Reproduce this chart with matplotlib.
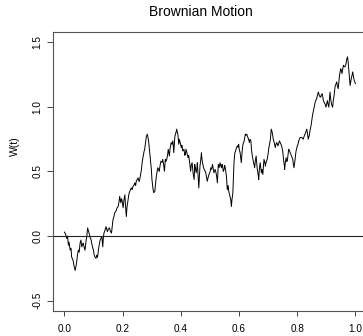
import matplotlib
matplotlib.use("Agg")
import matplotlib.pyplot as plt

plt.rcParams["font.family"] = ["Liberation Sans", "DejaVu Sans"]

# Sampled path of the Brownian motion W(t) on [0, 1]
t = [0.000, 0.004, 0.008, 0.011, 0.014, 0.016, 0.020, 0.023, 0.025, 0.030,
     0.033, 0.037, 0.040, 0.043, 0.045, 0.048, 0.051, 0.054, 0.057, 0.060,
     0.063, 0.065, 0.068, 0.071, 0.075, 0.077, 0.080, 0.082, 0.085, 0.088,
     0.092, 0.094, 0.097, 0.100, 0.102, 0.105, 0.109, 0.111, 0.114, 0.117,
     0.119, 0.123, 0.126, 0.129, 0.132, 0.134, 0.136, 0.140, 0.143, 0.148,
     0.151, 0.155, 0.158, 0.162, 0.164, 0.167, 0.171, 0.173, 0.176, 0.179,
     0.181, 0.185, 0.188, 0.190, 0.194, 0.196, 0.198, 0.202, 0.205, 0.208,
     0.210, 0.213, 0.215, 0.219, 0.222, 0.225, 0.227, 0.230, 0.233, 0.236,
     0.240, 0.242, 0.245, 0.247, 0.250, 0.253, 0.257, 0.259, 0.262, 0.265,
     0.267, 0.270, 0.274, 0.276, 0.280, 0.282, 0.285, 0.288, 0.290, 0.293,
     0.296, 0.299, 0.301, 0.305, 0.307, 0.311, 0.313, 0.316, 0.321, 0.324,
     0.326, 0.329, 0.332, 0.336, 0.338, 0.341, 0.344, 0.347, 0.349, 0.352,
     0.355, 0.357, 0.361, 0.363, 0.367, 0.370, 0.373, 0.376, 0.378, 0.380,
     0.384, 0.386, 0.390, 0.393, 0.395, 0.398, 0.402, 0.404, 0.407, 0.411,
     0.414, 0.416, 0.418, 0.421, 0.425, 0.427, 0.430, 0.434, 0.436, 0.439,
     0.443, 0.446, 0.448, 0.450, 0.453, 0.455, 0.457, 0.462, 0.464, 0.466,
     0.469, 0.471, 0.473, 0.476, 0.478, 0.481, 0.486, 0.489, 0.491, 0.494,
     0.497, 0.501, 0.503, 0.506, 0.509, 0.511, 0.514, 0.518, 0.520, 0.523,
     0.526, 0.529, 0.532, 0.535, 0.537, 0.540, 0.542, 0.544, 0.546, 0.549,
     0.551, 0.553, 0.557, 0.560, 0.563, 0.565, 0.567, 0.569, 0.572, 0.574,
     0.576, 0.579, 0.581, 0.583, 0.586, 0.588, 0.590, 0.592, 0.595, 0.597,
     0.599, 0.601, 0.604, 0.606, 0.608, 0.611, 0.613, 0.615, 0.618, 0.620,
     0.622, 0.624, 0.627, 0.629, 0.631, 0.634, 0.636, 0.638, 0.641, 0.643,
     0.646, 0.648, 0.654, 0.656, 0.659, 0.661, 0.663, 0.666, 0.668, 0.670,
     0.673, 0.675, 0.677, 0.679, 0.682, 0.684, 0.686, 0.689, 0.691, 0.693,
     0.697, 0.700, 0.702, 0.705, 0.708, 0.711, 0.714, 0.716, 0.718, 0.721,
     0.723, 0.725, 0.727, 0.730, 0.732, 0.734, 0.737, 0.739, 0.741, 0.746,
     0.748, 0.751, 0.753, 0.756, 0.757, 0.759, 0.762, 0.764, 0.766, 0.769,
     0.771, 0.773, 0.776, 0.778, 0.780, 0.782, 0.785, 0.787, 0.789, 0.792,
     0.794, 0.796, 0.799, 0.801, 0.803, 0.805, 0.808, 0.810, 0.816, 0.819,
     0.821, 0.824, 0.827, 0.831, 0.833, 0.836, 0.838, 0.842, 0.844, 0.848,
     0.850, 0.853, 0.856, 0.859, 0.862, 0.865, 0.867, 0.870, 0.873, 0.876,
     0.879, 0.881, 0.883, 0.886, 0.888, 0.890, 0.892, 0.895, 0.897, 0.899,
     0.902, 0.904, 0.906, 0.909, 0.911, 0.913, 0.915, 0.918, 0.920, 0.922,
     0.924, 0.927, 0.929, 0.931, 0.934, 0.936, 0.938, 0.941, 0.943, 0.945,
     0.947, 0.950, 0.952, 0.954, 0.957, 0.959, 0.961, 0.964, 0.966, 0.968,
     0.970, 0.973, 0.975, 0.977, 0.979, 0.982, 0.984, 0.986, 0.989, 0.991,
     0.993, 0.996, 0.998, 1.000]

W = [0.031, 0.016, -0.018, 0.000, -0.070, -0.047, -0.109, -0.094, -0.162, -0.188,
     -0.227, -0.266, -0.234, -0.188, -0.148, -0.109, -0.125, -0.055, -0.031, -0.084,
     -0.063, -0.055, -0.086, -0.109, -0.031, -0.005, 0.063, 0.047, 0.023, -0.005,
     -0.031, -0.055, -0.086, -0.109, -0.141, -0.162, -0.172, -0.148, -0.164, -0.109,
     -0.078, -0.031, -0.016, -0.005, -0.084, -0.016, 0.023, 0.047, 0.073, 0.034,
     0.055, 0.063, 0.039, 0.023, 0.063, 0.125, 0.156, 0.180, 0.188, 0.203,
     0.219, 0.229, 0.266, 0.307, 0.258, 0.289, 0.281, 0.219, 0.281, 0.320,
     0.242, 0.151, 0.219, 0.281, 0.328, 0.346, 0.359, 0.373, 0.359, 0.385,
     0.398, 0.412, 0.391, 0.424, 0.438, 0.451, 0.422, 0.438, 0.477, 0.516,
     0.563, 0.607, 0.656, 0.672, 0.737, 0.773, 0.789, 0.758, 0.724, 0.656,
     0.594, 0.516, 0.438, 0.359, 0.336, 0.346, 0.398, 0.463, 0.529, 0.516,
     0.502, 0.547, 0.580, 0.570, 0.594, 0.555, 0.502, 0.594, 0.578, 0.594,
     0.633, 0.672, 0.620, 0.672, 0.724, 0.711, 0.737, 0.646, 0.711, 0.776,
     0.805, 0.828, 0.789, 0.711, 0.750, 0.724, 0.685, 0.703, 0.659, 0.672,
     0.625, 0.633, 0.672, 0.646, 0.607, 0.625, 0.580, 0.502, 0.547, 0.568,
     0.477, 0.438, 0.555, 0.531, 0.490, 0.516, 0.568, 0.373, 0.453, 0.541,
     0.594, 0.646, 0.594, 0.555, 0.531, 0.516, 0.490, 0.453, 0.424, 0.453,
     0.477, 0.500, 0.529, 0.516, 0.555, 0.531, 0.490, 0.516, 0.502, 0.469,
     0.412, 0.555, 0.531, 0.568, 0.547, 0.529, 0.555, 0.541, 0.500, 0.516,
     0.547, 0.529, 0.463, 0.359, 0.391, 0.346, 0.328, 0.307, 0.281, 0.229,
     0.281, 0.334, 0.463, 0.570, 0.646, 0.656, 0.672, 0.688, 0.698, 0.688,
     0.711, 0.672, 0.646, 0.609, 0.568, 0.656, 0.698, 0.719, 0.737, 0.766,
     0.789, 0.781, 0.789, 0.773, 0.763, 0.742, 0.724, 0.750, 0.737, 0.672,
     0.620, 0.594, 0.529, 0.578, 0.620, 0.563, 0.516, 0.477, 0.438, 0.516,
     0.568, 0.531, 0.490, 0.516, 0.477, 0.531, 0.594, 0.570, 0.541, 0.570,
     0.594, 0.633, 0.672, 0.711, 0.750, 0.828, 0.805, 0.776, 0.750, 0.724,
     0.703, 0.685, 0.711, 0.724, 0.711, 0.698, 0.719, 0.737, 0.727, 0.703,
     0.685, 0.648, 0.594, 0.547, 0.516, 0.563, 0.607, 0.578, 0.580, 0.633,
     0.672, 0.664, 0.646, 0.633, 0.620, 0.609, 0.594, 0.555, 0.529, 0.578,
     0.620, 0.656, 0.685, 0.703, 0.711, 0.734, 0.750, 0.763, 0.763, 0.758,
     0.750, 0.773, 0.789, 0.813, 0.828, 0.789, 0.750, 0.781, 0.815, 0.859,
     0.893, 0.938, 0.971, 1.008, 1.037, 1.055, 1.063, 1.094, 1.115, 1.088,
     1.078, 1.076, 1.094, 1.102, 1.078, 1.049, 1.039, 1.023, 1.016, 0.998,
     1.031, 1.049, 1.023, 0.998, 1.063, 1.115, 1.063, 1.023, 1.008, 0.998,
     1.047, 1.088, 1.133, 1.166, 1.180, 1.193, 1.164, 1.141, 1.188, 1.232,
     1.266, 1.297, 1.281, 1.258, 1.297, 1.323, 1.313, 1.310, 1.320, 1.336,
     1.367, 1.388, 1.352, 1.297, 1.234, 1.166, 1.195, 1.219, 1.250, 1.271,
     1.242, 1.205, 1.195, 1.180]

x_ticks = [0.0, 0.2, 0.4, 0.6, 0.8, 1.0]
x_labels = ["0.0", "0.2", "0.4", "0.6", "0.8", "1.0"]
y_ticks = [-0.5, 0.0, 0.5, 1.0, 1.5]
y_labels = ["-0.5", "0.0", "0.5", "1.0", "1.5"]

fig = plt.figure(figsize=(3.63, 3.36), dpi=100)
ax = fig.add_axes([0.1452, 0.0744, 0.8658, 0.8304])

ax.plot(t, W, color="black", lw=0.7)
ax.axhline(0, color="#222222", lw=0.8)

ax.set_xlim(-0.04, 1.04)
ax.set_ylim(-0.58, 1.58)

ax.set_xticks(x_ticks)
ax.set_xticklabels(x_labels)
ax.set_yticks(y_ticks)
ax.set_yticklabels(y_labels, rotation=90, va="center")
ax.tick_params(axis="both", direction="out", width=0.7,
               color="#444444", labelsize=7.2, labelcolor="black")
ax.tick_params(axis="x", length=3.6, pad=5.5)
ax.tick_params(axis="y", length=4.3, pad=3.0)

for s in ax.spines.values():
    s.set_color("#555555")
    s.set_linewidth(0.8)

fig.text(0.553, 1 - 12.5 / 336, "Brownian Motion", ha="center", va="center",
         fontsize=10)
fig.text(15 / 363, 1 - 146 / 336, "W(t)", ha="center", va="center",
         rotation=90, fontsize=7.6)

fig.savefig("out.png", dpi=100)
